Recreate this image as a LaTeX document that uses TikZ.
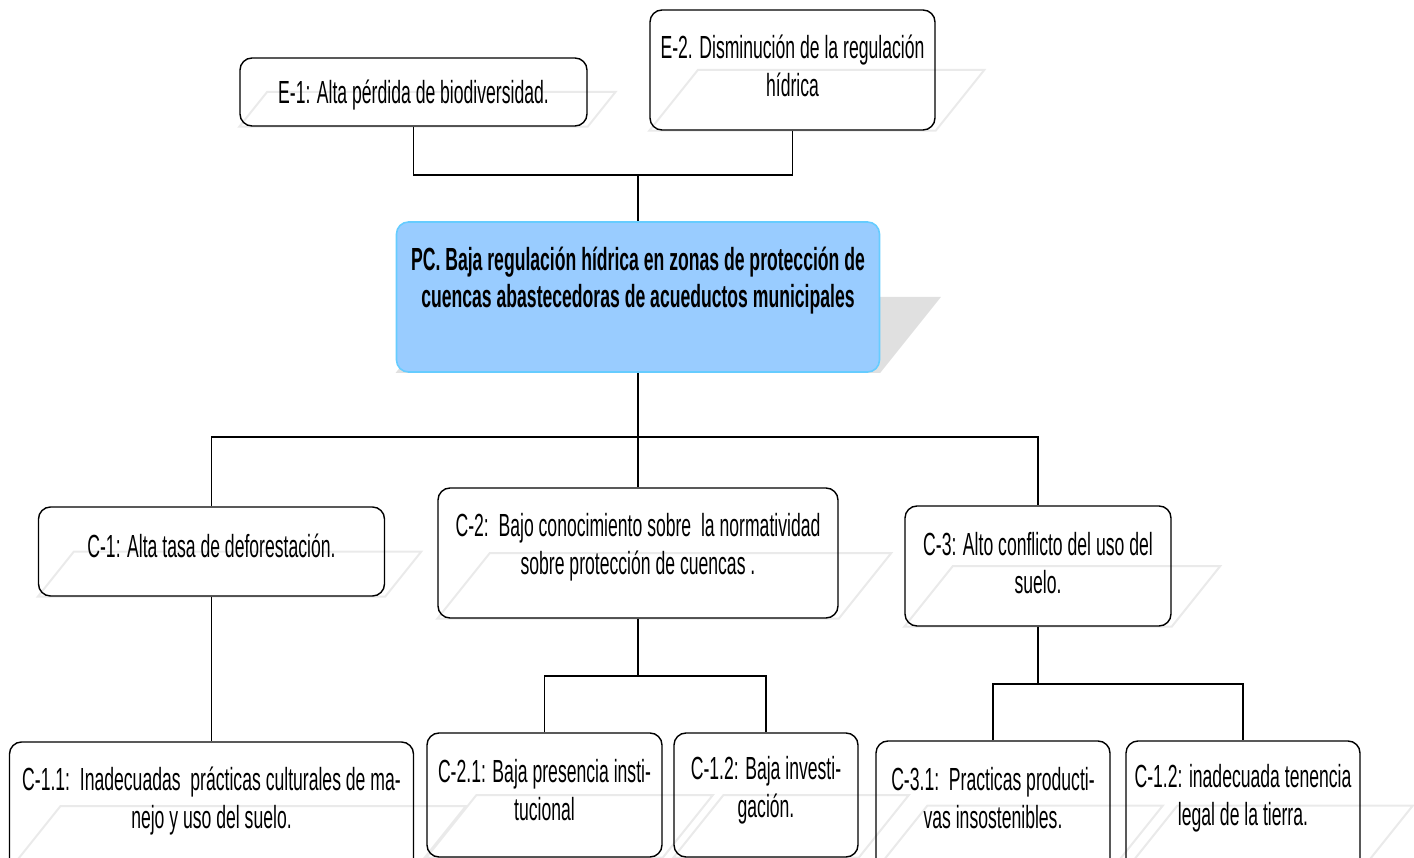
\documentclass[tikz,border=0pt]{standalone}
\usepackage{fontspec}
\setmainfont[FakeStretch=0.55]{Liberation Sans}
\usetikzlibrary{positioning,calc,backgrounds}
\definecolor{coreblue}{RGB}{153,204,255}
\definecolor{corerule}{RGB}{102,204,255}
\definecolor{glaregray}{RGB}{234,234,234}
\definecolor{shadowgray}{RGB}{224,224,224}
\tikzset{
  treebox/.style={rectangle,rounded corners=12pt,draw=black,line width=1.4pt,inner sep=0pt},
  corebox/.style={treebox,draw=corerule,line width=1.6pt,fill=coreblue},
  txt/.style={align=center,inner sep=0pt,font=\fontsize{32}{38}\selectfont},
  boldtxt/.style={txt,font=\fontsize{32}{37}\selectfont\bfseries},
  link/.style={line width=1.4pt},
  glare/.style={draw=glaregray,line width=2pt}
}
\newcommand{\glare}[2][glare]{%
  \path[#1] let \p1=(#2.north east), \p2=(#2.south west) in
    (#2.south west) -- ([xshift={0.4*(\y1-\y2)}]#2.west)
    -- ([xshift={0.4*(\y1-\y2)}]#2.east) -- (#2.south east) -- cycle;}

\begin{document}
\begin{tikzpicture}[x=1pt,y=-1pt]
  \useasboundingbox (0,0) rectangle (1414,858);
  \clip (0,0) rectangle (1414,858);

  % efectos
  \node[treebox,minimum width=347,minimum height=68,
    label={[txt,yshift=-3]center:{E-1: Alta pérdida de biodiversidad.}}] (e1) at (413.5,92) {};
  \node[treebox,minimum width=285,minimum height=120,
    label={[txt,yshift=4]center:{E-2. Disminución de la regulación\\hídrica}}] (e2) at (792.5,70) {};

  % problema central
  \node[corebox,minimum width=483,minimum height=150,
    label={[boldtxt,yshift=16]center:{PC. Baja regulación hídrica en zonas de protección de\\cuencas abastecedoras de acueductos municipales}}] (pc) at (638,297) {};

  % causas
  \node[treebox,minimum width=346,minimum height=89,
    label={[txt,yshift=6]center:{C-1: Alta tasa de deforestación.}}] (c1) at (211.5,551.5) {};
  \node[treebox,minimum width=400,minimum height=130,
    label={[txt,yshift=6]center:{C-2:\ \ Bajo conocimiento sobre\ \ la normatividad\\sobre protección de cuencas .}}] (c2) at (638,553) {};
  \node[treebox,minimum width=266,minimum height=120,
    label={[txt,yshift=3]center:{C-3: Alto conflicto del uso del\\suelo.}}] (c3) at (1038,566) {};

  % subcausas
  \node[treebox,minimum width=404,minimum height=128,
    label={[txt,yshift=5]center:{C-1.1:\ \ Inadecuadas\ \ prácticas culturales de ma-\\nejo y uso del suelo.}}] (c11) at (211.5,806) {};
  \node[treebox,minimum width=235,minimum height=124,
    label={[txt,yshift=5]center:{C-2.1: Baja presencia insti-\\tucional}}] (c21) at (544.5,795) {};
  \node[treebox,minimum width=184,minimum height=124,
    label={[txt,yshift=5]center:{C-1.2: Baja investi-\\gación.}}] (c22) at (766,795) {};
  \node[treebox,minimum width=234,minimum height=129,
    label={[txt,yshift=7]center:{C-3.1:\ \ Practicas producti-\\vas insostenibles.}}] (c31) at (993,805.5) {};
  \node[treebox,minimum width=234,minimum height=129,
    label={[txt,yshift=7]center:{C-1.2: inadecuada tenencia\\legal de la tierra.}}] (c32) at (1243,805.5) {};

  % uniones
  \coordinate (etop) at (638,175);
  \coordinate (cbus) at (638,437);
  \coordinate (c2bus) at (638,676);
  \coordinate (c3bus) at (1038,684);
  \draw[link] (e1.south) |- (etop) -| (e2.south);
  \draw[link] (etop) -- (pc.north);
  \draw[link] (pc.south) -- (cbus);
  \draw[link] (c1.north) |- (cbus) -| (c3.north);
  \draw[link] (cbus) -- (c2.north);
  \draw[link] (c1.south) -- (c11.north);
  \draw[link] (c2.south) -- (c2bus);
  \draw[link] (c21.north) |- (c2bus) -| (c22.north);
  \draw[link] (c3.south) -- (c3bus);
  \draw[link] (c31.north) |- (c3bus) -| (c32.north);

  % reflejos
  \begin{scope}[on background layer]
    \foreach \bx in {e1,e2,c1,c2,c3,c11,c21,c22,c31,c32}
      {\glare{\bx}}
    \glare[fill=shadowgray]{pc}
  \end{scope}
\end{tikzpicture}
\end{document}
